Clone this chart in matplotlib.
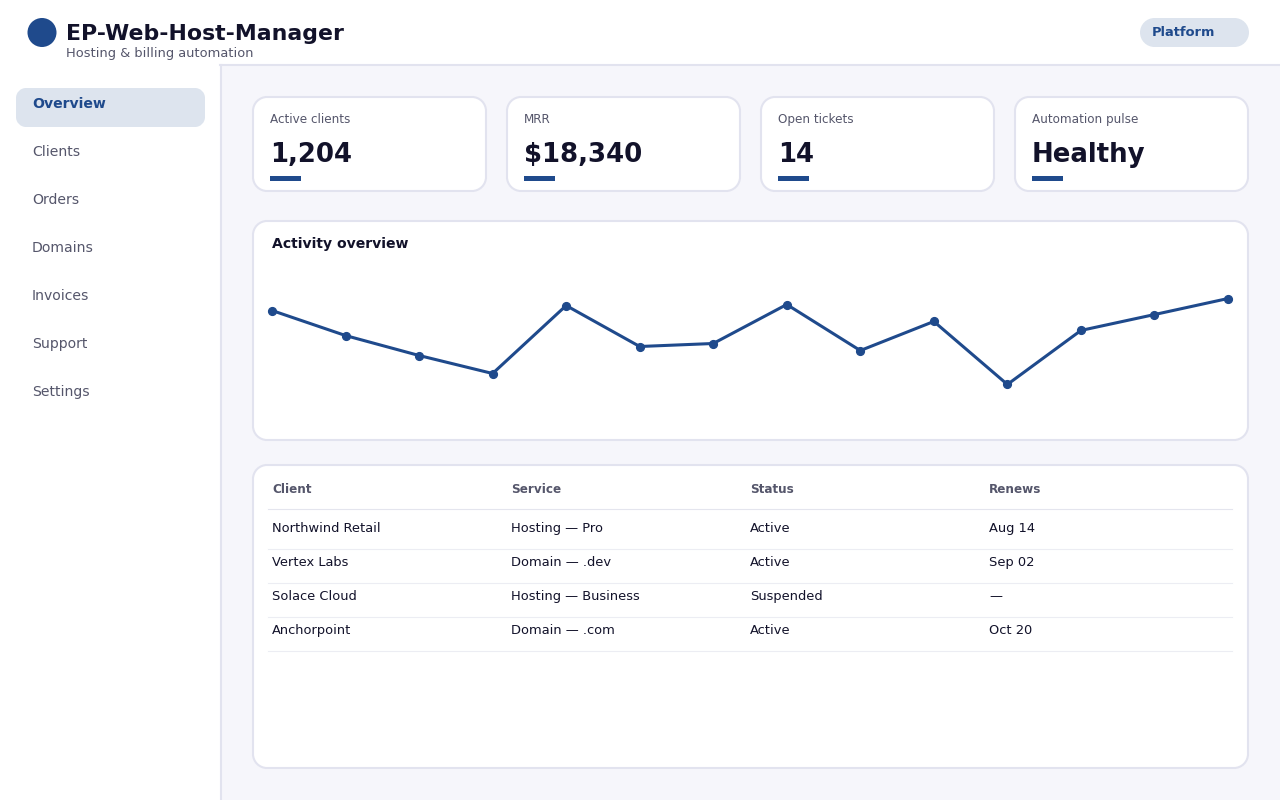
import matplotlib
matplotlib.use("Agg")
import matplotlib.pyplot as plt
from matplotlib.patches import PathPatch, Rectangle, Circle
from matplotlib.path import Path

# Colours
BLUE = "#1f4a8c"
DARK = "#12122a"
GREY = "#55566b"
BORDER = "#e2e3ef"
PILL = "#dde4ee"
BG = "#f6f6fb"
ROW = "#ecedf3"

# Data
nav_items = ["Overview", "Clients", "Orders", "Domains", "Invoices", "Support", "Settings"]
kpi_labels = ["Active clients", "MRR", "Open tickets", "Automation pulse"]
kpi_values = ["1,204", "$18,340", "14", "Healthy"]
activity = [76, 59.3, 46, 34, 79.3, 52, 54, 80, 49.3, 68.7, 26.7, 62.7, 73.3, 84]
table_head = ["Client", "Service", "Status", "Renews"]
clients = ["Northwind Retail", "Vertex Labs", "Solace Cloud", "Anchorpoint"]
services = ["Hosting — Pro", "Domain — .dev", "Hosting — Business", "Domain — .com"]
statuses = ["Active", "Active", "Suspended", "Active"]
renews = ["Aug 14", "Sep 02", "—", "Oct 20"]


def px(size):
    return size * 0.72


def card(ax, x, y, w, h, r=14, fc="white", ec=BORDER, lw=1.5):
    # rounded box with circular corners (boxstyle round gives flatter ones)
    k = r * 0.448
    x2, y2 = x + w, y + h
    verts = [(x + r, y), (x2 - r, y),
             (x2 - k, y), (x2, y + k), (x2, y + r), (x2, y2 - r),
             (x2, y2 - k), (x2 - k, y2), (x2 - r, y2), (x + r, y2),
             (x + k, y2), (x, y2 - k), (x, y2 - r), (x, y + r),
             (x, y + k), (x + k, y), (x + r, y), (x + r, y)]
    codes = [Path.MOVETO, Path.LINETO,
             Path.CURVE4, Path.CURVE4, Path.CURVE4, Path.LINETO,
             Path.CURVE4, Path.CURVE4, Path.CURVE4, Path.LINETO,
             Path.CURVE4, Path.CURVE4, Path.CURVE4, Path.LINETO,
             Path.CURVE4, Path.CURVE4, Path.CURVE4, Path.CLOSEPOLY]
    ax.add_patch(PathPatch(Path(verts, codes), fc=fc, ec=ec, lw=lw))


fig = plt.figure(figsize=(12.8, 8), dpi=100, facecolor="white")
ax = fig.add_axes([0, 0, 1, 1])
ax.set_xlim(0, 1280)
ax.set_ylim(800, 0)
ax.axis("off")

# page background, header and sidebar
ax.add_patch(Rectangle((221, 65), 1059, 735, fc=BG, ec="none"))
ax.plot([220, 1280], [65, 65], color=BORDER, lw=1.5)
ax.plot([220.5, 220.5], [65, 800], color=BORDER, lw=1.5)

ax.add_patch(Circle((42, 32.5), 14.5, fc=BLUE, ec="none"))
ax.text(66, 40, "EP-Web-Host-Manager", fontsize=px(21.95), fontweight="bold", color=DARK)
ax.text(66, 57, "Hosting & billing automation", fontsize=px(13), color=GREY)

card(ax, 1140, 18, 109, 29, r=14.5, fc=PILL, ec="none", lw=0)
ax.text(1152, 36, "Platform", fontsize=px(13), fontweight="bold", color=BLUE)

# sidebar nav
card(ax, 16, 88, 189, 39, r=10, fc=PILL, ec="none", lw=0)
for i, name in enumerate(nav_items):
    y = 108 + i * 48
    if i == 0:
        ax.text(32, y, name, fontsize=px(14), fontweight="bold", color=BLUE)
    else:
        ax.text(32, y, name, fontsize=px(14), color=GREY)

# KPI cards
for i, (label, value) in enumerate(zip(kpi_labels, kpi_values)):
    x = 253 + i * 254
    card(ax, x, 97, 233, 94)
    ax.text(x + 17, 123, label, fontsize=px(12), color=GREY)
    ax.text(x + 17, 162, value, fontsize=px(26), fontweight="bold", color=DARK)
    ax.add_patch(Rectangle((x + 17, 176), 31, 5, fc=BLUE, ec="none"))

# activity card
card(ax, 253, 221, 995, 219)
ax.text(272, 248, "Activity overview", fontsize=px(14), fontweight="bold", color=DARK)

chart = fig.add_axes([272 / 1280, 1 - 424.5 / 800, 956 / 1280, 150 / 800])
chart.set_xlim(0, len(activity) - 1)
chart.set_ylim(0, 100)
chart.axis("off")
chart.plot(range(len(activity)), activity, color=BLUE, lw=2.2, marker="o", ms=5.6,
           clip_on=False)

# table card
card(ax, 253, 465, 995, 303)
columns = [clients, services, statuses, renews]
col_x = [272, 511, 750, 989]
for x, head in zip(col_x, table_head):
    ax.text(x, 493, head, fontsize=px(12), fontweight="bold", color=GREY)
ax.plot([268, 1232], [508.5, 508.5], color="#e4e5ee", lw=0.8)
for r in range(len(clients)):
    y = 532 + r * 34
    for x, col in zip(col_x, columns):
        ax.text(x, y, col[r], fontsize=px(13), color=DARK)
    ax.plot([268, 1232], [548.5 + r * 34] * 2, color=ROW, lw=0.8)

fig.savefig("out.png", dpi=100)
